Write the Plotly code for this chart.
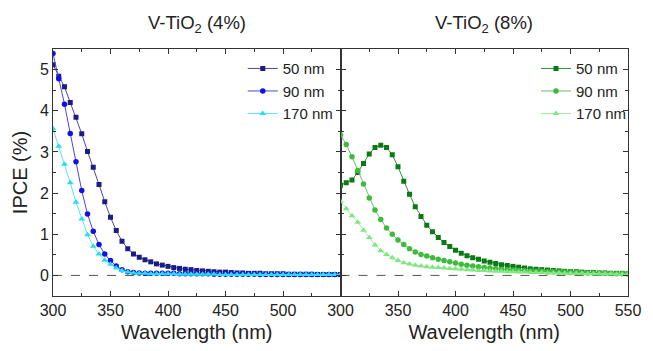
import plotly.graph_objects as go
from plotly.subplots import make_subplots

wavelength = list(range(300, 551, 5))

left_50 = [5.12, 4.84, 4.58, 4.20, 3.84, 3.44, 3.01, 2.63, 2.21, 1.79, 1.41, 1.09, 0.83, 0.65, 0.52, 0.44,
           0.38, 0.33, 0.28, 0.25, 0.22, 0.19, 0.17, 0.15, 0.14, 0.12, 0.11, 0.10, 0.09, 0.08, 0.08, 0.07,
           0.06, 0.06, 0.05, 0.05, 0.05, 0.04, 0.04, 0.04, 0.04, 0.03, 0.03, 0.03, 0.03, 0.03, 0.02, 0.02,
           0.02, 0.02, 0.02]
left_90 = [5.39, 4.78, 4.16, 3.45, 2.76, 2.06, 1.49, 1.07, 0.75, 0.52, 0.36, 0.23, 0.14, 0.09, 0.07, 0.06,
           0.05, 0.05, 0.05, 0.05, 0.05, 0.05, 0.04, 0.04, 0.04, 0.04, 0.04, 0.04, 0.03, 0.03, 0.03, 0.03,
           0.03, 0.03, 0.03, 0.03, 0.02, 0.02, 0.02, 0.02, 0.02, 0.02, 0.02, 0.02, 0.02, 0.02, 0.02, 0.02,
           0.02, 0.02, 0.02]
left_170 = [3.56, 3.14, 2.70, 2.25, 1.78, 1.37, 0.99, 0.71, 0.52, 0.37, 0.27, 0.18, 0.12, 0.08, 0.06, 0.05,
            0.05, 0.04, 0.04, 0.04, 0.04, 0.04, 0.03, 0.03, 0.03, 0.03, 0.03, 0.03, 0.03, 0.02, 0.02, 0.02,
            0.02, 0.02, 0.02, 0.02, 0.02, 0.02, 0.02, 0.02, 0.02, 0.02, 0.02, 0.02, 0.02, 0.02, 0.02, 0.02,
            0.02, 0.02, 0.02]

right_50 = [2.19, 2.25, 2.32, 2.50, 2.72, 2.95, 3.11, 3.16, 3.11, 2.93, 2.64, 2.29, 1.97, 1.67, 1.43, 1.22,
            1.06, 0.92, 0.80, 0.70, 0.61, 0.54, 0.48, 0.43, 0.39, 0.35, 0.32, 0.29, 0.26, 0.24, 0.22, 0.20,
            0.18, 0.16, 0.15, 0.14, 0.13, 0.12, 0.11, 0.10, 0.09, 0.09, 0.08, 0.07, 0.07, 0.06, 0.06, 0.05,
            0.05, 0.05, 0.04]
right_90 = [3.41, 3.18, 2.88, 2.55, 2.22, 1.88, 1.59, 1.36, 1.15, 1.00, 0.86, 0.75, 0.65, 0.57, 0.51, 0.47,
            0.43, 0.39, 0.36, 0.33, 0.30, 0.27, 0.25, 0.23, 0.21, 0.19, 0.18, 0.17, 0.15, 0.14, 0.13, 0.12,
            0.12, 0.11, 0.10, 0.10, 0.09, 0.09, 0.08, 0.08, 0.07, 0.07, 0.06, 0.06, 0.06, 0.05, 0.05, 0.05,
            0.04, 0.04, 0.04]
right_170 = [1.80, 1.62, 1.45, 1.29, 1.10, 0.92, 0.74, 0.60, 0.51, 0.43, 0.36, 0.31, 0.28, 0.25, 0.23, 0.21,
             0.20, 0.19, 0.18, 0.17, 0.16, 0.15, 0.14, 0.13, 0.12, 0.12, 0.11, 0.10, 0.10, 0.09, 0.09, 0.08,
             0.08, 0.07, 0.07, 0.07, 0.06, 0.06, 0.06, 0.05, 0.05, 0.05, 0.05, 0.04, 0.04, 0.04, 0.04, 0.04,
             0.03, 0.03, 0.03]

series_names = ["50 nm", "90 nm", "170 nm"]
panel_titles = ["V-TiO<sub>2</sub> (4%)", "V-TiO<sub>2</sub> (8%)"]
left_tickvals = [300, 350, 400, 450, 500]
right_tickvals = [300, 350, 400, 450, 500, 550]
y_tickvals = [0, 1, 2, 3, 4, 5]

FONT = "Liberation Sans, Arial, sans-serif"
AX = "#333333"
TXT = "#222222"

fig = make_subplots(rows=1, cols=2, horizontal_spacing=0.0)

left_colors = [("#1c1c86", "#4a4aa0"), ("#1010e8", "#4848d8"), ("#22e0f0", "#5ae4f0")]
right_colors = [("#0a7a14", "#3a8a3a"), ("#3cbb3c", "#6cc06c"), ("#7ee87e", "#a2eaa2")]
symbols = ["square", "circle", "triangle-up"]
sizes = [5, 5.5, 6]

for data, (mc, lc), sym, sz, name in zip([left_50, left_90, left_170], left_colors, symbols, sizes, series_names):
    fig.add_trace(go.Scatter(x=wavelength, y=data, mode="lines+markers", name=name,
                             line=dict(color=lc, width=1),
                             marker=dict(symbol=sym, size=sz, color=mc, line=dict(width=0)),
                             legend="legend"), row=1, col=1)
for data, (mc, lc), sym, sz, name in zip([right_50, right_90, right_170], right_colors, symbols, sizes, series_names):
    fig.add_trace(go.Scatter(x=wavelength, y=data, mode="lines+markers", name=name,
                             line=dict(color=lc, width=1),
                             marker=dict(symbol=sym, size=sz, color=mc, line=dict(width=0)),
                             legend="legend2"), row=1, col=2)

for ref in ["x", "x2"]:
    fig.add_shape(type="line", xref=f"{ref} domain", yref="y" if ref == "x" else "y2",
                  x0=0, x1=1, y0=0, y1=0, line=dict(color="#555555", width=1, dash="dash"), layer="below")

common_x = dict(range=[300, 550], showline=True, linecolor=AX, linewidth=1, mirror="ticks",
                ticks="inside", ticklen=5, tickwidth=1, tickcolor=AX,
                minor=dict(dtick=25, tick0=300, ticks="inside", ticklen=3, tickcolor=AX),
                showgrid=False, zeroline=False, tickfont=dict(size=16, color=TXT),
                title=dict(text="Wavelength (nm)", font=dict(size=20, color=TXT), standoff=6))
fig.update_xaxes(common_x)
fig.update_xaxes(tickvals=left_tickvals, row=1, col=1)
fig.update_xaxes(tickvals=right_tickvals, row=1, col=2)

common_y = dict(range=[-0.5, 5.5], showline=True, linecolor=AX, linewidth=1, mirror="ticks",
                ticks="inside", ticklen=5, tickwidth=1, tickcolor=AX, tickvals=y_tickvals,
                minor=dict(dtick=0.5, tick0=0, ticks="inside", ticklen=3, tickcolor=AX),
                showgrid=False, zeroline=False, tickfont=dict(size=16, color=TXT))
fig.update_yaxes(common_y)
fig.update_yaxes(title=dict(text="IPCE (%)", font=dict(size=20, color=TXT), standoff=6), row=1, col=1)
fig.update_yaxes(showticklabels=False, row=1, col=2)

for i, t in enumerate(panel_titles):
    fig.add_annotation(text=t, xref="paper", yref="paper", x=0.25 + 0.5 * i, y=1.10,
                       xanchor="center", yanchor="middle", showarrow=False,
                       font=dict(size=18.5, color=TXT))

legend_style = dict(bgcolor="rgba(0,0,0,0)", font=dict(size=15, color=TXT),
                    tracegroupgap=0, itemsizing="trace", yanchor="top", xanchor="right")
fig.update_layout(
    width=645, height=343,
    margin=dict(l=41, r=15, t=41, b=53),
    paper_bgcolor="white", plot_bgcolor="white",
    font=dict(family=FONT),
    showlegend=True,
    legend=dict(x=0.497, y=0.987, **legend_style),
    legend2=dict(x=1.007, y=0.987, **legend_style),
)

fig.write_html("out.html")
